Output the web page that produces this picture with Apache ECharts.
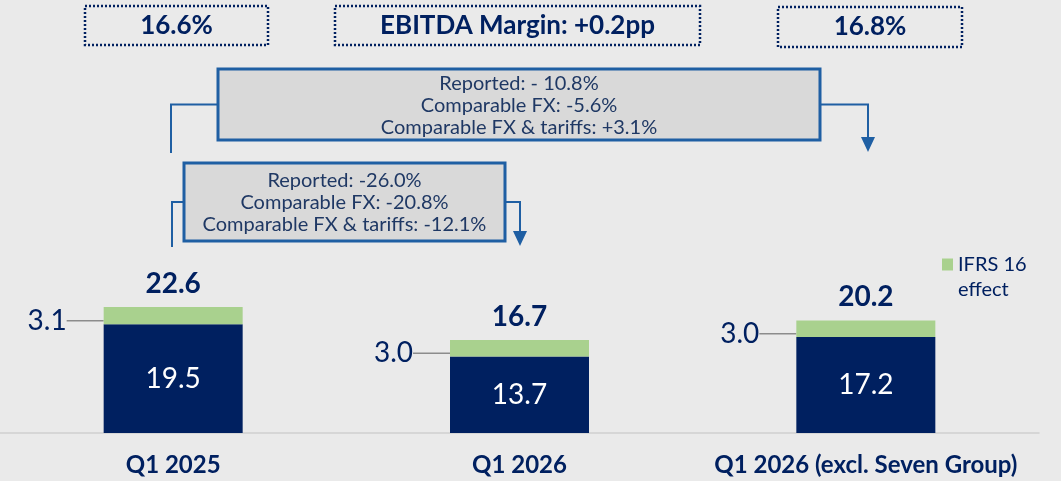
<!DOCTYPE html>
<html>
<head>
<meta charset="utf-8">
<title>EBITDA Q1</title>
<script src="https://cdn.jsdelivr.net/npm/echarts@6/dist/echarts.min.js"></script>
<style>
  html, body { margin: 0; padding: 0; background: #eaeaea; }
  #ebitdaChart { width: 1061px; height: 481px; }
</style>
</head>
<body>
<div id="ebitdaChart"></div>
<script>
// values (EUR m)
const categories = ["Q1 2025", "Q1 2026", "Q1 2026 (excl. Seven Group)"];
const ebitdaBase = [19.5, 13.7, 17.2];
const ifrs16Effect = [3.1, 3.0, 3.0];
const totals = [22.6, 16.7, 20.2];
const marginLabels = ["16.6%", "EBITDA Margin: +0.2pp", "16.8%"];
const growthTop = ["Reported: - 10.8%", "Comparable FX: -5.6%", "Comparable FX & tariffs: +3.1%"];
const growthLow = ["Reported: -26.0%", "Comparable FX: -20.8%", "Comparable FX & tariffs: -12.1%"];

const NAVY = "#002060";
const GREEN = "#a9d18e";
const BLUE = "#1f5fa3";
const FONT = "Lato";

document.addEventListener("DOMContentLoaded", () => {
  const chart = echarts.init(document.getElementById("ebitdaChart"));

  const dottedBox = (x, y, w, h, text) => [
    { type: "rect", shape: { x: x, y: y, width: w, height: h },
      style: { fill: "none", stroke: NAVY, lineWidth: 2.5, lineDash: [2, 2] } },
    { type: "text", x: x + w / 2, y: y + h / 2,
      style: { text: text, font: "bold 26px " + FONT, fill: NAVY, textAlign: "center", textVerticalAlign: "middle" } }
  ];

  const growthBox = (x, y, w, h, lines, leftX, rightX, lineBottom, arrowTop) => {
    const midY = y + h / 2;
    return [
      { type: "polyline", shape: { points: [[x, midY], [leftX, midY], [leftX, lineBottom]] },
        style: { stroke: BLUE, lineWidth: 2, fill: null } },
      { type: "polyline", shape: { points: [[x + w, midY], [rightX, midY], [rightX, arrowTop]] },
        style: { stroke: BLUE, lineWidth: 2, fill: null } },
      { type: "polygon", shape: { points: [[rightX - 7, arrowTop], [rightX + 7, arrowTop], [rightX, arrowTop + 15]] },
        style: { fill: BLUE } },
      { type: "rect", shape: { x: x, y: y, width: w, height: h },
        style: { fill: "#d9d9d9", stroke: BLUE, lineWidth: 3 } },
      { type: "text", x: x + w / 2, y: midY + 1,
        style: { text: lines.join("\n"), font: "20px " + FONT, fill: "#1f3864", lineHeight: 22,
                 textAlign: "center", textVerticalAlign: "middle" } }
    ];
  };

  chart.setOption({
    backgroundColor: "#eaeaea",
    animation: false,
    textStyle: { fontFamily: FONT },
    grid: { left: 0, right: 22, top: 210, bottom: 48 },
    legend: {
      data: ["IFRS 16 effect"],
      left: 942, top: 252,
      padding: 0,
      // square sits on the first text line: tiny dot at the bottom stretches the icon box
      icon: "path://M0,0h11v12h-11z M0,37h0.01v0.01h-0.01z",
      itemWidth: 11, itemHeight: 37,
      formatter: () => "IFRS 16\neffect",
      textStyle: { color: NAVY, fontSize: 20, lineHeight: 25 }
    },
    xAxis: {
      type: "category",
      data: categories,
      axisLine: { lineStyle: { color: "#d0d0d0", width: 1.5 } },
      axisTick: { show: false },
      axisLabel: { interval: 0, color: NAVY, fontWeight: "bold", fontSize: 24, margin: 20 }
    },
    yAxis: { type: "value", min: 0, max: 40, show: false, splitLine: { show: false } },
    series: [
      {
        name: "EBITDA",
        type: "bar",
        stack: "ebitda",
        barWidth: 139,
        data: ebitdaBase,
        itemStyle: { color: NAVY },
        label: { show: true, position: "inside", color: "#fff", fontSize: 28, formatter: p => p.value.toFixed(1) }
      },
      {
        name: "IFRS 16 effect",
        type: "bar",
        stack: "ebitda",
        barWidth: 139,
        data: ifrs16Effect,
        itemStyle: { color: GREEN },
        label: { show: true, position: "left", distance: 0, padding: [0, 12, 0, 0],
                 color: NAVY, fontSize: 28, formatter: p => p.value.toFixed(1) },
        labelLayout: { dx: -25, dy: 5 },
        labelLine: { show: true, lineStyle: { color: "#8c8c8c", width: 1.5 } }
      },
      {
        name: "Total",
        type: "bar",
        barWidth: 139,
        barGap: "-100%",
        z: 1,
        data: totals,
        itemStyle: { color: "transparent" },
        label: { show: true, position: "top", distance: 9, color: NAVY, fontSize: 28, fontWeight: "bold",
                 formatter: p => p.value.toFixed(1) }
      }
    ],
    graphic: [
      ...dottedBox(85, 6, 183, 39, marginLabels[0]),
      ...dottedBox(335, 6, 365, 39, marginLabels[1]),
      ...dottedBox(778, 7, 184, 40, marginLabels[2]),
      ...growthBox(218, 69, 602, 71, growthTop, 171, 868, 153, 137),
      ...growthBox(184, 163, 321, 78, growthLow, 172, 520, 247, 231)
    ]
  });

  window.addEventListener("resize", () => chart.resize());
});
</script>
</body>
</html>
